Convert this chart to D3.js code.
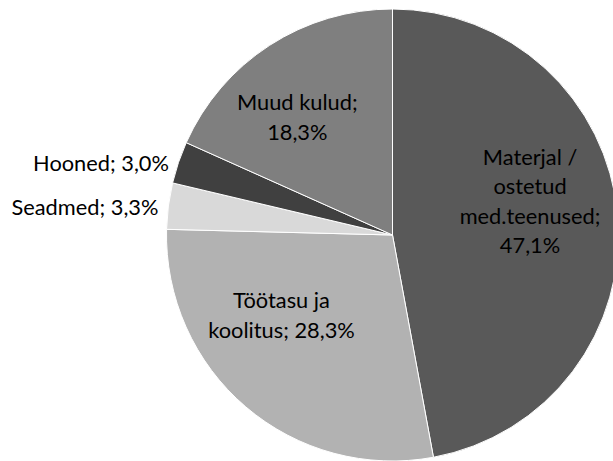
<!DOCTYPE html>
<html>
<head>
<meta charset="utf-8">
<script src="https://cdn.jsdelivr.net/npm/d3@7"></script>
<style>
  body { margin: 0; background: #fff; }
  svg text { font-family: Lato, "Open Sans", sans-serif; font-size: 21.8px; fill: #000; }
</style>
</head>
<body>
<div id="chart"></div>
<script>
// slices, clockwise from 12 o'clock
var categories = ["Materjal / ostetud med.teenused", "Töötasu ja koolitus", "Seadmed", "Hooned", "Muud kulud"];
var values = [47.1, 28.3, 3.3, 3.0, 18.3];
var labelLines = [
    ["Materjal /", "ostetud", "med.teenused;", "47,1%"],
    ["Töötasu ja", "koolitus; 28,3%"],
    ["Seadmed; 3,3%"],
    ["Hooned; 3,0%"],
    ["Muud kulud;", "18,3%"]
];
var colors = ["#595959", "#b2b2b2", "#d9d9d9", "#404040", "#7f7f7f"];

// label placement: inside (with small nudges) or outside the pie
var labelOutside = [false, false, true, true, false];
var labelNudge = [[-2, -21], [-20, -26], [0, 3], [0, 4], [-19, 0]];

var width = 613, height = 461;
var cx = 392.5, cy = 235, radius = 226;
var lineHeight = 29.5;

var svg = d3.select("#chart")
    .append("svg")
    .attr("width", width)
    .attr("height", height)
    .append("g")
    .attr("transform", "translate(" + cx + "," + cy + ")");

var data = categories.map(function (c, i) {
    return { name: c, value: values[i], lines: labelLines[i], color: colors[i], outside: labelOutside[i], nudge: labelNudge[i] };
});

var pie = d3.pie()
    .sort(null)
    .value(function (d) { return d.value; });

var arc = d3.arc()
    .innerRadius(0)
    .outerRadius(radius);

var inLabelArc = d3.arc()
    .innerRadius(radius * 0.62)
    .outerRadius(radius * 0.62);

var outLabelArc = d3.arc()
    .innerRadius(radius + 10)
    .outerRadius(radius + 10);

var arcs = pie(data);

// Slices
svg.selectAll("path.slice")
    .data(arcs)
    .enter()
    .append("path")
    .attr("class", "slice")
    .attr("d", arc)
    .style("fill", function (d) { return d.data.color; })
    .attr("stroke", "#fff")
    .attr("stroke-width", 1);

// Labels
var labels = svg.selectAll("text.label")
    .data(arcs)
    .enter()
    .append("text")
    .attr("class", "label")
    .attr("text-anchor", function (d) { return d.data.outside ? "end" : "middle"; })
    .attr("transform", function (d) {
        var p = d.data.outside ? outLabelArc.centroid(d) : inLabelArc.centroid(d);
        return "translate(" + (p[0] + d.data.nudge[0]) + "," + (p[1] + d.data.nudge[1]) + ")";
    });

labels.selectAll("tspan")
    .data(function (d) {
        var n = d.data.lines.length;
        return d.data.lines.map(function (l, i) { return { text: l, dy: (i - (n - 1) / 2) * lineHeight }; });
    })
    .enter()
    .append("tspan")
    .attr("x", 0)
    .attr("y", function (d) { return d.dy; })
    .attr("dy", "0.35em")
    .text(function (d) { return d.text; });
</script>
</body>
</html>
